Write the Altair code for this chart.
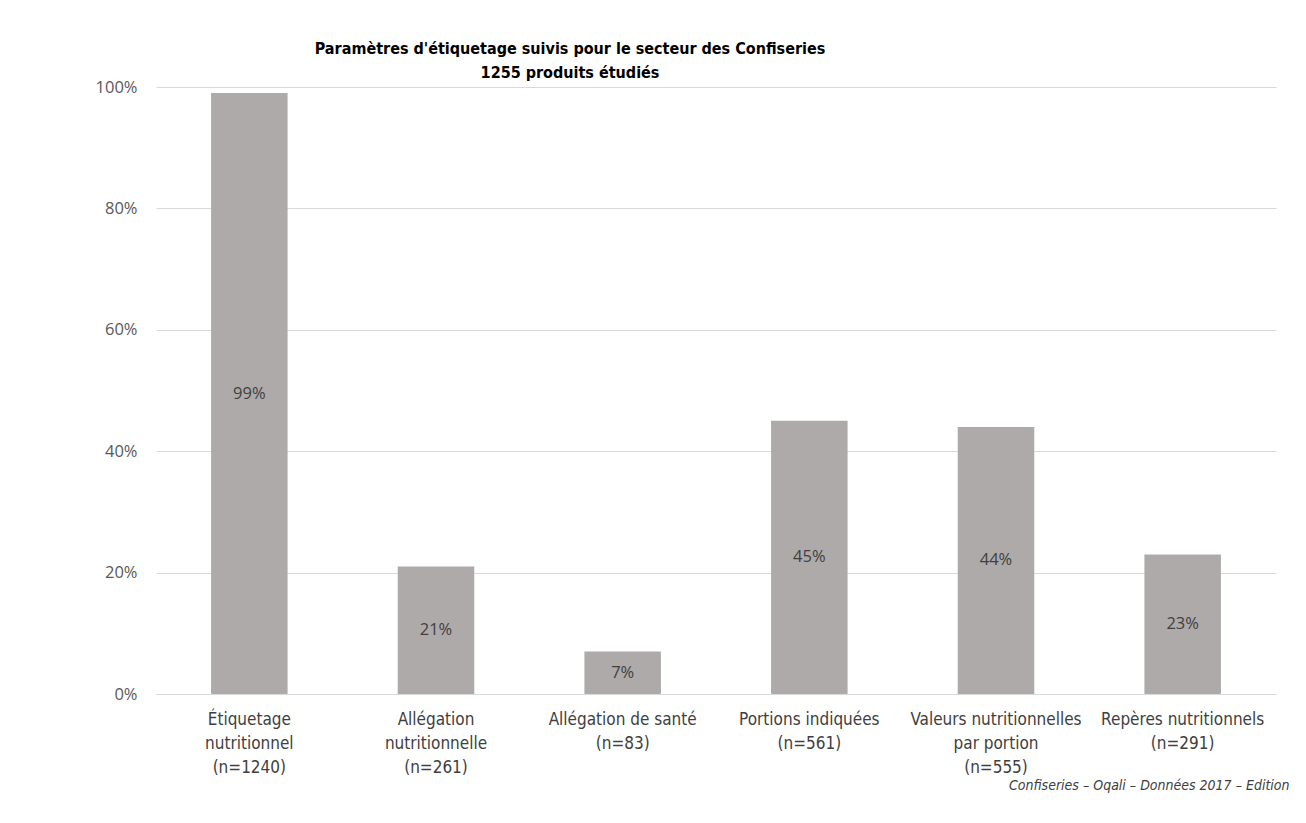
import altair as alt
import pandas as pd

categories = [
    "Étiquetage\nnutritionnel\n(n=1240)",
    "Allégation\nnutritionnelle\n(n=261)",
    "Allégation de santé\n(n=83)",
    "Portions indiquées\n(n=561)",
    "Valeurs nutritionnelles\npar portion\n(n=555)",
    "Repères nutritionnels\n(n=291)",
]
values = [0.99, 0.21, 0.07, 0.45, 0.44, 0.23]
value_labels = ["99%", "21%", "7%", "45%", "44%", "23%"]

df = pd.DataFrame({"cat": categories, "val": values, "lab": value_labels})
df["half"] = df["val"] / 2

narrow = "Liberation Sans Narrow, DejaVu Sans Condensed, sans-serif"
wide = "Open Sans, DejaVu Sans, sans-serif"

x = alt.X(
    "cat:N",
    sort=categories,
    scale=alt.Scale(paddingInner=0.59, paddingOuter=0.295),
    axis=alt.Axis(
        title="Confiseries – Oqali – Données 2017 – Edition",
        titleFont=narrow,
        titleFontSize=14,
        titleFontStyle="italic",
        titleFontWeight="normal",
        titleColor="#404040",
        titleAlign="right",
        titleBaseline="middle",
        titleX=1133,
        titleY=91,
        labelExpr="split(datum.label, '\\n')",
        labelFont=narrow,
        labelFontSize=17,
        labelColor="#404040",
        labelLineHeight=24,
        labelPadding=17,
        labelAngle=0,
        labelLimit=0,
        labelOverlap=False,
        ticks=False,
        domainColor="#D9D9D9",
    ),
)

bars = alt.Chart(df).mark_bar(color="#AEAAAA").encode(
    x=x,
    y=alt.Y(
        "val:Q",
        scale=alt.Scale(domain=[0, 1], nice=False),
        axis=alt.Axis(
            title=None,
            format=".0%",
            values=[0, 0.2, 0.4, 0.6, 0.8, 1.0],
            labelFont=wide,
            labelFontSize=16.5,
            labelColor="#595959",
            labelPadding=19,
            ticks=False,
            domain=False,
            gridColor="#D9D9D9",
            gridWidth=1,
        ),
    ),
)

texts = alt.Chart(df).mark_text(
    font=wide, fontSize=16.5, color="#404040", baseline="middle"
).encode(
    x=alt.X("cat:N", sort=categories),
    y=alt.Y("half:Q"),
    text="lab:N",
)

chart = (
    alt.layer(bars, texts)
    .properties(
        width=1120,
        height=607,
        background="white",
        title=alt.TitleParams(
            text=[
                "Paramètres d'étiquetage suivis pour  le secteur des Confiseries",
                "1255 produits étudiés",
            ],
            font=narrow,
            fontSize=16,
            fontWeight="bold",
            color="#000000",
            anchor="middle",
            dx=-146,
            lineHeight=24,
            offset=-2,
        ),
        padding={"left": 148, "top": 79, "right": 22, "bottom": 110},
        autosize=alt.AutoSizeParams(type="none"),
    )
    .configure_view(stroke="transparent", strokeWidth=0)
)

chart.save("out.html", embed_options={"renderer": "svg", "actions": False})
